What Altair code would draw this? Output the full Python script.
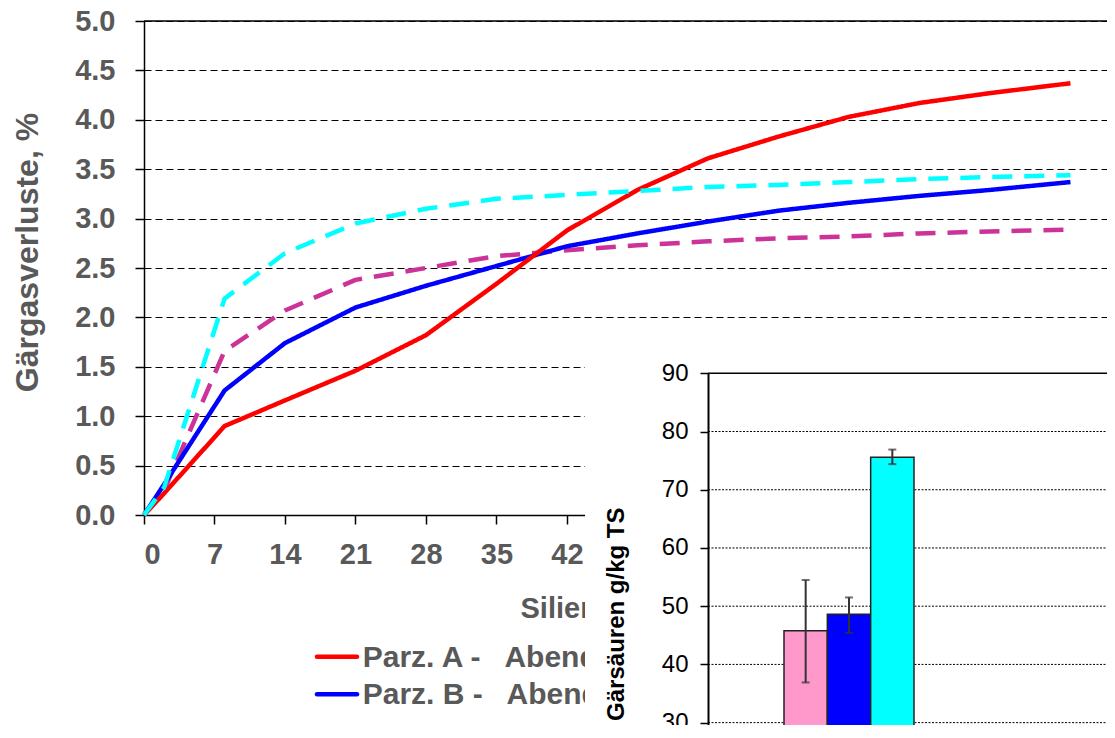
import altair as alt
import pandas as pd

# ---------------- data ----------------
days = [0, 2, 8, 14, 21, 28, 35, 42, 49, 56, 63, 70, 77, 84, 92]
series_names = ["Parz. C -\u00a0\u00a0 Morgen", "Parz. B -\u00a0\u00a0 Abend", "Parz. A -\u00a0\u00a0 Abend", "Parz. D -\u00a0\u00a0 Morgen"]
series_colors = ["#CC3399", "#0000FF", "#FF0000", "#00FFFF"]
series_dash = [[20, 12], [1, 0], [1, 0], [20, 12]]

magenta_vals = [0, 0.25, 1.66, 2.07, 2.38, 2.50, 2.62, 2.68, 2.73, 2.77, 2.80, 2.82, 2.85, 2.87, 2.89]
blue_vals = [0, 0.31, 1.26, 1.74, 2.10, 2.32, 2.52, 2.72, 2.85, 2.97, 3.08, 3.16, 3.23, 3.29, 3.37]
red_vals = [0, 0.22, 0.90, 1.16, 1.46, 1.82, 2.34, 2.88, 3.29, 3.61, 3.83, 4.03, 4.17, 4.27, 4.37]
cyan_vals = [0, 0.28, 2.19, 2.65, 2.95, 3.10, 3.20, 3.24, 3.28, 3.32, 3.34, 3.37, 3.40, 3.42, 3.44]

legend_labels = ["Parz. A -\u00a0\u00a0 Abend", "Parz. B -\u00a0\u00a0 Abend"]
legend_colors = ["#FF0000", "#0000FF"]

x_ticks = list(range(0, 92, 7))
y_ticks = [i * 0.5 for i in range(11)]

bar_labels = ["Var. 1", "Var. 2", "Var. 3"]
bar_values = [45.8, 48.6, 75.6]
bar_err_low = [36.9, 45.4, 74.4]
bar_err_high = [54.5, 51.5, 76.9]
bar_colors = ["#FF99CC", "#0000FF", "#00FFFF"]
inset_ticks = list(range(0, 91, 10))
inset_grid_vals = list(range(10, 81, 10))

FONT = "Liberation Sans"
GRAY = "#595959"
W, H = 963, 494
X_MAX = 95.63  # keeps 10.07 px per day

# ---------------- tables ----------------
rows = []
for name, vals in zip(series_names, [magenta_vals, blue_vals, red_vals, cyan_vals]):
    for d, v in zip(days, vals):
        rows.append({"Tag": d, "Wert": v, "Serie": name})
line_df = pd.DataFrame(rows)

leg_df = pd.DataFrame({"label": legend_labels, "row": [0, 1], "color": legend_colors})
bar_df = pd.DataFrame({"Var": bar_labels, "Wert": bar_values, "lo": bar_err_low, "hi": bar_err_high})
grid_df = pd.DataFrame({"v": inset_grid_vals})
top_df = pd.DataFrame({"v": [90]})
one_df = pd.DataFrame({"k": [0]})

# ---------------- main line chart ----------------
lines = alt.Chart(line_df).mark_line(strokeWidth=4.5, strokeCap="butt", strokeJoin="round").encode(
    x=alt.X("Tag:Q",
            scale=alt.Scale(domain=[0, X_MAX], nice=False, zero=True),
            axis=alt.Axis(values=x_ticks, title="Silierdauer, Tage", grid=False,
                          labelFont=FONT, labelFontSize=29, labelFontWeight="bold", labelColor=GRAY,
                          labelPadding=16, labelOverlap=False, tickSize=9, tickColor="black", tickWidth=1.5,
                          domainColor="black", domainWidth=1.5,
                          titleFont=FONT, titleFontSize=29, titleFontWeight="bold", titleColor=GRAY,
                          titleAlign="left", titleBaseline="alphabetic", titleX=376, titleY=102)),
    y=alt.Y("Wert:Q",
            scale=alt.Scale(domain=[0, 5], nice=False),
            axis=alt.Axis(values=y_ticks, format=".1f", title="Gärgasverluste, %",
                          grid=True, gridColor="black", gridDash=[7, 4], gridWidth=1,
                          labelFont=FONT, labelFontSize=29, labelFontWeight="bold", labelColor=GRAY,
                          labelPadding=20, tickSize=9, tickColor="black", tickWidth=1.5,
                          domainColor="black", domainWidth=1.5,
                          titleFont=FONT, titleFontSize=32, titleFontWeight="bold", titleColor=GRAY,
                          titleAngle=270, titleAlign="center", titleBaseline="alphabetic",
                          titleX=-107, titleY=231)),
    color=alt.Color("Serie:N", scale=alt.Scale(domain=series_names, range=series_colors), legend=None),
    strokeDash=alt.StrokeDash("Serie:N", scale=alt.Scale(domain=series_names, range=series_dash), legend=None),
    order=alt.Order("Tag:Q"),
)

# top frame line of the plot area
top_border = alt.Chart(one_df).mark_rule(color="black", strokeWidth=1.5).encode(
    x=alt.value(0), x2=alt.value(W), y=alt.value(0),
)

# ---------------- legend (drawn as marks so the inset can cover it) ----------------
leg_y = alt.Y("row:Q", scale=alt.Scale(domain=[0, 1], range=[635.7, 673.3]), axis=None)
leg_lines = alt.Chart(leg_df).mark_rule(strokeWidth=4.5, strokeCap="round").encode(
    x=alt.value(173), x2=alt.value(213), y=leg_y,
    color=alt.Color("color:N", scale=None),
)
leg_text = alt.Chart(leg_df).mark_text(align="left", baseline="alphabetic", dy=10, font=FONT,
                                       fontSize=30, fontWeight="bold", color=GRAY).encode(
    x=alt.value(218.7), y=leg_y, text="label:N",
)

# ---------------- white panel of the inset ----------------
mask = alt.Chart(one_df).mark_rect(color="white").encode(
    x=alt.value(441), x2=alt.value(W + 20), y=alt.value(319), y2=alt.value(900),
)

# ---------------- inset bar chart ----------------
def inset_y(field, axis=None):
    return alt.Y(field, scale=alt.Scale(domain=[0, 90], range=[876.3, 352.3], nice=False, zero=True),
                 axis=axis)

def inset_x():
    return alt.X("Var:N", scale=alt.Scale(domain=bar_labels, range=[640, 770], paddingInner=0, paddingOuter=0),
                 axis=None)

inset_axis = alt.Axis(orient="left", offset=-564, values=inset_ticks, grid=False, zindex=1,
                      title="Gärsäuren g/kg TS",
                      labelFont=FONT, labelFontSize=24, labelColor="black", labelPadding=12,
                      tickSize=8, tickColor="black", tickWidth=1.5,
                      domainColor="black", domainWidth=2,
                      titleFont=FONT, titleFontSize=24, titleFontWeight="bold", titleColor="black",
                      titleAngle=270, titleAlign="right", titleBaseline="alphabetic",
                      titleX=-85, titleY=486)

inset_grid = alt.Chart(grid_df).mark_rule(color="black", strokeWidth=1, strokeDash=[2, 1.5]).encode(
    y=inset_y("v:Q", inset_axis), x=alt.value(564), x2=alt.value(W + 20),
)
inset_top = alt.Chart(top_df).mark_rule(color="black", strokeWidth=1.5).encode(
    y=inset_y("v:Q"), x=alt.value(564), x2=alt.value(W + 20),
)
bars = alt.Chart(bar_df).mark_bar(stroke="#222222", strokeWidth=1.5).encode(
    x=inset_x(), y=inset_y("Wert:Q"),
    fill=alt.Fill("Var:N", scale=alt.Scale(domain=bar_labels, range=bar_colors), legend=None),
)
err_rule = alt.Chart(bar_df).mark_rule(color="#333333", strokeWidth=2).encode(
    x=inset_x(), y=inset_y("lo:Q"), y2="hi:Q",
)
err_cap_hi = alt.Chart(bar_df).mark_tick(color="#333333", thickness=2, size=8, orient="horizontal").encode(
    x=inset_x(), y=inset_y("hi:Q"),
)
err_cap_lo = alt.Chart(bar_df).mark_tick(color="#333333", thickness=2, size=8, orient="horizontal").encode(
    x=inset_x(), y=inset_y("lo:Q"),
)

chart = alt.layer(
    lines, top_border, leg_lines, leg_text, mask,
    inset_grid, inset_top, bars, err_rule, err_cap_hi, err_cap_lo,
).resolve_scale(
    x="independent", y="independent", color="independent", fill="independent"
).properties(
    width=W, height=H,
    padding={"left": 136, "top": 13, "right": 0, "bottom": 210},
    autosize=alt.AutoSizeParams(type="none"),
).configure_view(stroke=None).configure(font=FONT)

chart.save("out.html", embed_options={"renderer": "svg", "actions": False})
